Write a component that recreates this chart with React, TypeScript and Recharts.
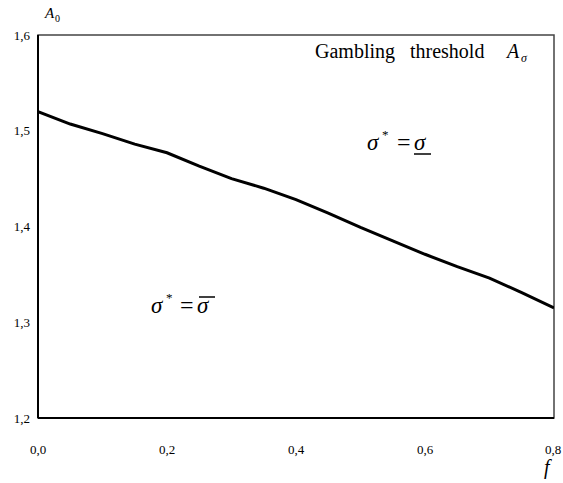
import React from 'react';
import { LineChart, Line, XAxis, YAxis, ReferenceArea, Customized } from 'recharts';

// Probability f and the corresponding gambling threshold A_sigma
const fValues = [0, 0.05, 0.1, 0.15, 0.2, 0.25, 0.3, 0.35, 0.4, 0.45, 0.5, 0.55, 0.6, 0.65, 0.7, 0.75, 0.8];
const thresholdValues = [1.52, 1.507, 1.497, 1.486, 1.477, 1.463, 1.45, 1.44, 1.428, 1.414, 1.399, 1.385, 1.371, 1.358, 1.346, 1.331, 1.315];

const xTicks = [0, 0.2, 0.4, 0.6, 0.8];
const yTicks = [1.2, 1.3, 1.4, 1.5, 1.6];

const data = fValues.map((f, i) => ({ f, a: thresholdValues[i] }));

const SERIF = '"Liberation Serif", "Times New Roman", serif';
const commaFmt = (v: number) => v.toFixed(1).replace('.', ',');

const XTick = (props: any) => {
  const { x, y, payload } = props;
  return (
    <text x={x} y={y + 34} textAnchor="middle" fontFamily={SERIF} fontSize={13} fill="#000">
      {commaFmt(payload.value)}
    </text>
  );
};

const YTick = (props: any) => {
  const { x, y, payload } = props;
  return (
    <text x={x - 6} y={y + 4.5} textAnchor="end" fontFamily={SERIF} fontSize={13} fill="#000">
      {commaFmt(payload.value)}
    </text>
  );
};

const Annotations = () => (
  <g fontFamily={SERIF} fill="#000">
    {/* vertical axis title A_0 */}
    <text x={45} y={18} fontSize={15} fontStyle="italic">A</text>
    <text x={55} y={22} fontSize={10}>0</text>

    {/* horizontal axis title f */}
    <text x={544} y={474} fontSize={20} fontStyle="italic">f</text>

    {/* curve caption */}
    <text x={315} y={58} fontSize={20} xmlSpace="preserve">Gambling   threshold</text>
    <text x={507} y={58} fontSize={20} fontStyle="italic">A</text>
    <text x={521} y={62} fontSize={12} fontStyle="italic">σ</text>

    {/* region above the curve */}
    <text x={367} y={150} fontSize={23} fontStyle="italic">σ</text>
    <text x={382} y={139} fontSize={13}>*</text>
    <text x={397} y={150} fontSize={24}>=</text>
    <text x={414} y={150} fontSize={23} fontStyle="italic">σ</text>
    <line x1={414} x2={431} y1={154} y2={154} stroke="#000" strokeWidth={1.5} />

    {/* region below the curve */}
    <text x={151} y={313} fontSize={23} fontStyle="italic">σ</text>
    <text x={166} y={302} fontSize={13}>*</text>
    <text x={180} y={313} fontSize={24}>=</text>
    <text x={197} y={313} fontSize={23} fontStyle="italic">σ</text>
    <line x1={199} x2={215} y1={297} y2={297} stroke="#000" strokeWidth={1.5} />
  </g>
);

export default function App() {
  return (
    <div style={{ position: 'absolute', left: 0, top: 0 }}>
      <LineChart
        width={563}
        height={483}
        data={data}
        margin={{ top: 35, right: 9, bottom: 0, left: 0 }}
      >
        <ReferenceArea
          x1={0}
          x2={0.8}
          y1={1.2}
          y2={1.6}
          fill="none"
          stroke="#444"
          strokeWidth={1.5}
          ifOverflow="visible"
        />
        <XAxis
          dataKey="f"
          type="number"
          domain={[0, 0.8]}
          ticks={xTicks}
          height={65}
          tickSize={0}
          axisLine={{ stroke: '#000', strokeWidth: 2 }}
          tickLine={false}
          tick={<XTick />}
          allowDataOverflow
        />
        <YAxis
          type="number"
          domain={[1.2, 1.6]}
          ticks={yTicks}
          width={38}
          tickSize={0}
          axisLine={{ stroke: '#000', strokeWidth: 2 }}
          tickLine={false}
          tick={<YTick />}
          allowDataOverflow
        />
        <Line
          dataKey="a"
          type="linear"
          stroke="#000"
          strokeWidth={3}
          dot={false}
          isAnimationActive={false}
        />
        <Customized component={Annotations} />
      </LineChart>
    </div>
  );
}
